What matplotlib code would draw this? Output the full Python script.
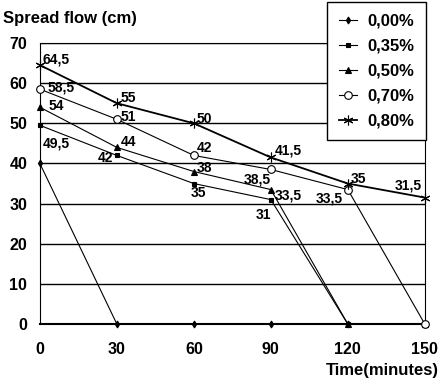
import matplotlib.pyplot as plt

plt.rcParams['font.family'] = ['Liberation Sans', 'DejaVu Sans']
plt.rcParams['font.weight'] = 'bold'

time = [0, 30, 60, 90, 120, 150]
names = ['0,00%', '0,35%', '0,50%', '0,70%', '0,80%']
flow_000 = [40, 0, 0, 0, 0, 0]
flow_035 = [49.5, 42, 35, 31, 0, 0]
flow_050 = [54, 44, 38, 33.5, 0, 0]
flow_070 = [58.5, 51, 42, 38.5, 33.5, 0]
flow_080 = [64.5, 55, 50, 41.5, 35, 31.5]

series = [flow_000, flow_035, flow_050, flow_070, flow_080]
markers = ['d', 's', '^', 'o', (6, 2, 0)]
msizes = [3.5, 3.5, 4.5, 5.5, 7]
lws = [0.8, 0.8, 0.8, 0.8, 1.3]

# label offsets in pixels (dx, dy, ha) for each labelled point
offs = {
    1: [(3, -18, 'left'), (-4, -3, 'right'), (-3, -9, 'left'), (0, -15, 'right')],
    2: [(9, 1, 'left'), (4, 5, 'left'), (3, 4, 'left'), (4, -6, 'left')],
    3: [(8, 2, 'left'), (4, 2, 'left'), (3, 7, 'left'), (0, -10, 'right'), (-5, -9, 'right')],
    4: [(3, 6, 'left'), (4, 5, 'left'), (3, 4, 'left'), (4, 7, 'left'), (3, 5, 'left'), (-3, 12, 'right')],
}

fig = plt.figure(figsize=(4.43, 3.84), dpi=100)
ax = fig.add_axes([0.090, 0.156, 0.869, 0.732])

for i, ys in enumerate(series):
    ax.plot(time, ys, color='black', lw=lws[i], marker=markers[i], ms=msizes[i],
            mfc='white' if i == 3 else 'black', mec='black', mew=0.8,
            label=names[i], clip_on=False, zorder=3)
    if i in offs:
        for j, (dx, dy, ha) in enumerate(offs[i]):
            ax.annotate(('%g' % ys[j]).replace('.', ','), (time[j], ys[j]),
                        xytext=(dx * 0.72, dy * 0.72), textcoords='offset points',
                        ha=ha, va='center', fontsize=10, fontweight='bold', zorder=4)

ax.set_xlim(0, 150)
ax.set_ylim(0, 70)
ax.set_xticks(time)
ax.set_yticks(range(0, 71, 10))
ax.tick_params(axis='x', length=0, pad=13, labelsize=11.5)
ax.tick_params(axis='y', length=0, pad=9, labelsize=11.5)
ax.grid(axis='y', color='black', lw=1)
for s in ['left', 'right', 'top', 'bottom']:
    ax.spines[s].set_color('black')
ax.spines['bottom'].set_linewidth(1.5)
ax.spines['right'].set_linewidth(0.8)

fig.text(0.007, 0.953, 'Spread flow (cm)', fontsize=12, fontweight='bold', va='center')
fig.text(0.99, 0.036, 'Time(minutes)', fontsize=12, fontweight='bold', va='center', ha='right')

leg = fig.legend(loc='upper right', bbox_to_anchor=(0.962, 0.995), borderaxespad=0,
                 fontsize=12, frameon=True, fancybox=False, edgecolor='black', framealpha=1,
                 handlelength=1.1, labelspacing=0.6, borderpad=0.7, handletextpad=0.6)
leg.get_frame().set_linewidth(1)
for t in leg.get_texts():
    t.set_fontweight('bold')

fig.savefig('out.png', dpi=100)
